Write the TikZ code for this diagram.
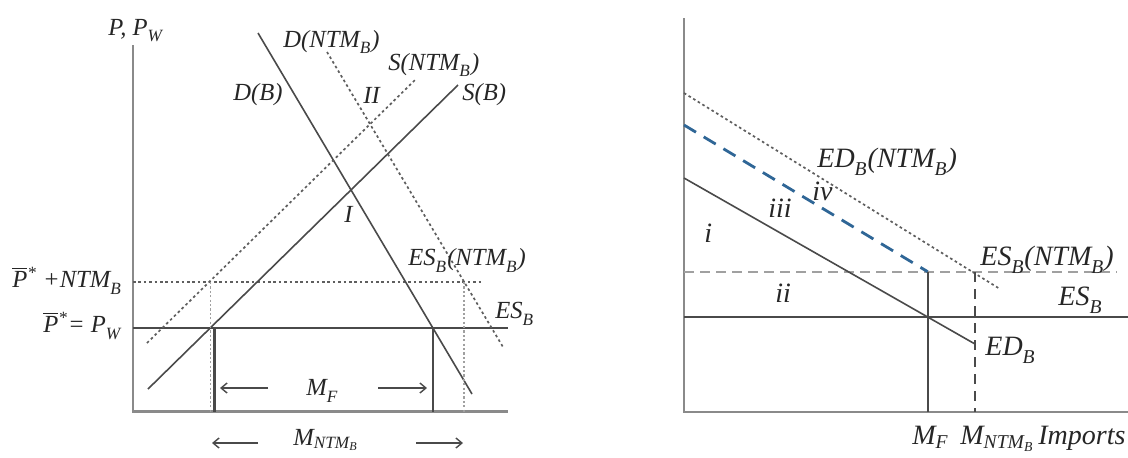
\documentclass[tikz,border=0pt]{standalone}
\usepackage{fontspec}
\setmainfont{Liberation Serif}
\usetikzlibrary{arrows.meta}
\definecolor{ln}{HTML}{4A4A4A}
\definecolor{ax}{HTML}{8A8A8A}
\definecolor{dt}{HTML}{5E5E5E}
\definecolor{bl}{HTML}{2F6696}
\definecolor{lg}{HTML}{A0A0A0}
\tikzset{
  axisline/.style={draw=ax, line width=1.1pt},
  curve/.style={draw=ln, line width=0.8pt},
  dotline/.style={draw=dt, line width=0.85pt, dash pattern=on 1.3pt off 1.4pt},
  lightdot/.style={draw=lg, line width=0.9pt, dash pattern=on 1.1pt off 1.1pt},
  bluedash/.style={draw=bl, line width=1.4pt, dash pattern=on 7pt off 4.5pt},
  greydash/.style={draw=lg, line width=0.9pt, dash pattern=on 5pt off 3pt},
  darkdash/.style={draw=ln, line width=0.8pt, dash pattern=on 5pt off 3.5pt},
  arr/.style={draw=ln, line width=0.7pt, -{Straight Barb[length=3pt,width=5pt]}},
  lab/.style={anchor=base west, inner sep=0pt, font=\fontsize{12.3}{14}\selectfont\itshape, text=black!85},
  labr/.style={anchor=base west, inner sep=0pt, font=\fontsize{14}{16}\selectfont\itshape, text=black!85},
}
\newcommand{\Pbar}{$\overline{\mbox{\itshape P}}$\textsuperscript{*}}
\newcommand{\sbs}[1]{\raisebox{-0.3ex}{\textsubscript{#1}}}
\begin{document}
\begin{tikzpicture}[x=0.5pt, y=-0.5pt]
\useasboundingbox (0,0) rectangle (1128,457);
% ---------------- left panel ----------------
\coordinate (yTop) at (133,45);
\coordinate (O) at (133,411.5);
\coordinate (xEnd) at (508,411.5);
\draw[axisline] (yTop) -- (O) -- (xEnd);
% horizontal price lines
\coordinate (pwL) at (133,328);
\coordinate (pwR) at (508,328);
\coordinate (pnL) at (133,282);
\coordinate (pnR) at (482,282);
\draw[curve] (pwL) -- (pwR);
\draw[dotline] (pnL) -- (pnR);
% demand and supply
\coordinate (dbT) at (258,33);
\coordinate (dbB) at (472,394);
\coordinate (sbB) at (148,389);
\coordinate (sbT) at (458,85);
\coordinate (dnT) at (327,52);
\coordinate (dnB) at (503,347);
\coordinate (snB) at (147,343);
\coordinate (snT) at (415,80);
\draw[curve] (dbT) -- (dbB);
\draw[curve] (sbB) -- (sbT);
\draw[dotline] (dnT) -- (dnB);
\draw[dotline] (snB) -- (snT);
% vertical lines
\coordinate (v1T) at (214.5,328);
\coordinate (v1B) at (214.5,411.5);
\coordinate (v2T) at (432.7,328);
\coordinate (v2B) at (432.7,411.5);
\coordinate (v3T) at (210.5,282);
\coordinate (v3B) at (210.5,411.5);
\coordinate (v4T) at (464,282);
\coordinate (v4B) at (464,411.5);
\draw[lightdot] (v3T) -- (v3B);
\draw[lightdot] (v4T) -- (v4B);
\draw[draw=ln, line width=1.1pt] (v1T) -- (v1B);
\draw[curve] (v2T) -- (v2B);
% arrows
\coordinate (mfA1) at (268,388);
\coordinate (mfA2) at (220,388);
\coordinate (mfB1) at (378,388);
\coordinate (mfB2) at (427,388);
\coordinate (mnA1) at (258,443);
\coordinate (mnA2) at (212,443);
\coordinate (mnB1) at (416,443);
\coordinate (mnB2) at (463,443);
\draw[arr] (mfA1) -- (mfA2);
\draw[arr] (mfB1) -- (mfB2);
\draw[arr] (mnA1) -- (mnA2);
\draw[arr] (mnB1) -- (mnB2);
% labels
\node[lab] (lP) at (108,35) {P, P\sbs{W}};
\node[lab] (lDN) at (283,47) {D(NTM\sbs{B})};
\node[lab] (lSN) at (388,70) {S(NTM\sbs{B})};
\node[lab] (lDB) at (233,100) {D(B)};
\node[lab] (lSB) at (462,100) {S(B)};
\node[lab] (lII) at (363,103) {II};
\node[lab] (lI) at (344,222) {I};
\node[lab] (lESN) at (408,265) {ES\sbs{B}(NTM\sbs{B})};
\node[lab] (lES) at (495,318) {ES\sbs{B}};
\node[lab] (lPN) at (12,287) {\Pbar\ +NTM\sbs{B}};
\node[lab] (lPW) at (43,332) {\Pbar= P\sbs{W}};
\node[lab] (lMF) at (306,395) {M\sbs{F}};
\node[lab] (lMN) at (293,445) {M\textsubscript{NTM\textsubscript{B}}};
% ---------------- right panel ----------------
\coordinate (ryTop) at (684,18);
\coordinate (rO) at (684,411.7);
\coordinate (rxEnd) at (1128,411.7);
\draw[axisline] (ryTop) -- (rO) -- (rxEnd);
\coordinate (esL) at (684,316.7);
\coordinate (esR) at (1128,316.7);
\coordinate (esnL) at (684,271.7);
\coordinate (esnR) at (1117,271.7);
\draw[curve] (esL) -- (esR);
\draw[greydash] (esnL) -- (esnR);
\coordinate (edT) at (684,178);
\coordinate (edB) at (975,344);
\coordinate (bdT) at (684,125);
\coordinate (bdB) at (927.7,271.7);
\coordinate (ednT) at (684,93);
\coordinate (ednB) at (1000,289);
\draw[curve] (edT) -- (edB);
\draw[bluedash] (bdT) -- (bdB);
\draw[dotline] (ednT) -- (ednB);
\coordinate (rv1T) at (927.7,271.7);
\coordinate (rv1B) at (927.7,411.7);
\coordinate (rv2T) at (975,272);
\coordinate (rv2B) at (975,411.7);
\draw[curve] (rv1T) -- (rv1B);
\draw[darkdash] (rv2T) -- (rv2B);
\node[labr] (rEDN) at (817,167) {ED\sbs{B}(NTM\sbs{B})};
\node[labr] (riv) at (812,200) {iv};
\node[labr] (riii) at (768,217) {iii};
\node[labr] (ri) at (704,242) {i};
\node[labr] (rii) at (775,302) {ii};
\node[labr] (rESN) at (980,265) {ES\sbs{B}(NTM\sbs{B})};
\node[labr] (rES) at (1058,305) {ES\sbs{B}};
\node[labr] (rED) at (985,355) {ED\sbs{B}};
\node[labr] (rMF) at (912,444) {M\textsubscript{F}};
\node[labr] (rMN) at (960,444) {M\textsubscript{NTM\textsubscript{B}}};
\node[labr] (rImp) at (1038,444) {Imports};
\end{tikzpicture}
\end{document}
